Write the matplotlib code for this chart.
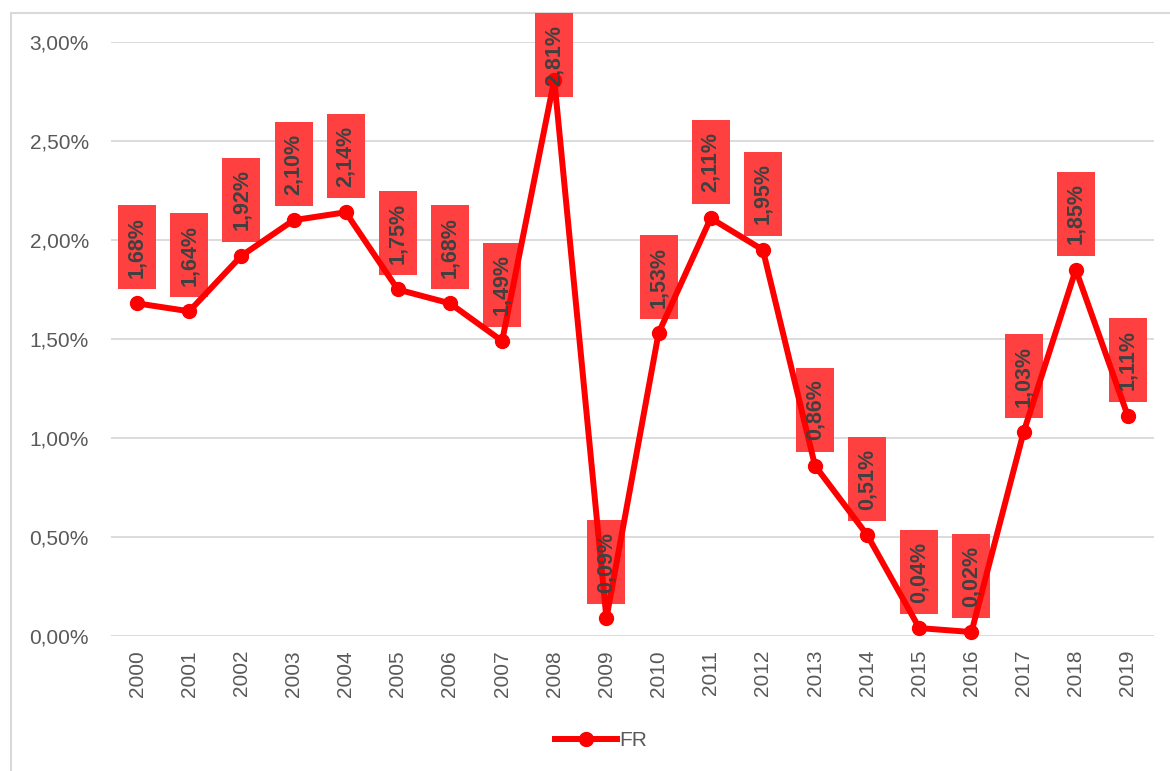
import matplotlib.pyplot as plt
from matplotlib.patches import Rectangle
from matplotlib.lines import Line2D

years = [str(y) for y in range(2000, 2020)]
fr = [1.68, 1.64, 1.92, 2.10, 2.14, 1.75, 1.68, 1.49, 2.81, 0.09,
      1.53, 2.11, 1.95, 0.86, 0.51, 0.04, 0.02, 1.03, 1.85, 1.11]
yticks = [0, 0.5, 1.0, 1.5, 2.0, 2.5, 3.0]


def pct(v):
    return f"{v:.2f}%".replace('.', ',')


plt.rcParams['font.family'] = ['Liberation Sans', 'DejaVu Sans']

W, H = 1170, 771
fig = plt.figure(figsize=(W / 100, H / 100), dpi=100)
ax = fig.add_axes([111 / W, 1 - 636 / H, (1154 - 111) / W, (636 - 42) / H])

# chart border
fig.patches.append(Rectangle((11 / W, -0.1), 1.2, 1.1 - 13 / H, transform=fig.transFigure,
                             fill=False, edgecolor='#d9d9d9', linewidth=1.5, zorder=-1))

x = list(range(len(years)))
ax.plot(x, fr, color='#ff0000', linewidth=4.3, marker='o', markersize=10,
        solid_capstyle='round', zorder=3, clip_on=False)

ax.set_xlim(-0.5, len(years) - 0.5)
ax.set_ylim(0, 3.0)
ax.set_yticks(yticks)
ax.set_yticklabels([pct(v) for v in yticks])
ax.set_xticks(x)
ax.set_xticklabels(years, rotation=90)
ax.tick_params(axis='y', length=0, pad=16, labelsize=15, labelcolor='#595959')
ax.tick_params(axis='x', length=0, pad=10, labelsize=15, labelcolor='#595959')
ax.grid(axis='y', color='#d9d9d9', linewidth=1.3)
ax.set_axisbelow(True)
for s in ax.spines.values():
    s.set_visible(False)

# data labels: red boxes above each point, kept inside the chart border
bw, bh, gap = 38, 84, 14
top_limit = H - 13
for i, v in enumerate(fr):
    px, py = ax.transData.transform((i, v))
    bottom = py + gap
    if bottom + bh > top_limit:
        bottom = top_limit - bh
    ax.add_patch(Rectangle(((px - bw / 2) / W, bottom / H), bw / W, bh / H,
                           transform=fig.transFigure, facecolor='#ff4040',
                           edgecolor='none', zorder=2, clip_on=False))
    ax.text(px / W, (bottom + bh / 2) / H, pct(v), transform=fig.transFigure,
            rotation=90, ha='center', va='center', fontsize=15.5,
            fontweight='bold', color='#404040', zorder=4, clip_on=False)

handle = Line2D([], [], color='#ff0000', linewidth=4.3, marker='o', markersize=10)
fig.legend([handle], ['FR'], loc='center', bbox_to_anchor=(601 / W, 1 - 741 / H),
           frameon=False, fontsize=15, labelcolor='#595959', handlelength=3.0,
           handletextpad=0.1)

fig.savefig('out.png', dpi=100)
